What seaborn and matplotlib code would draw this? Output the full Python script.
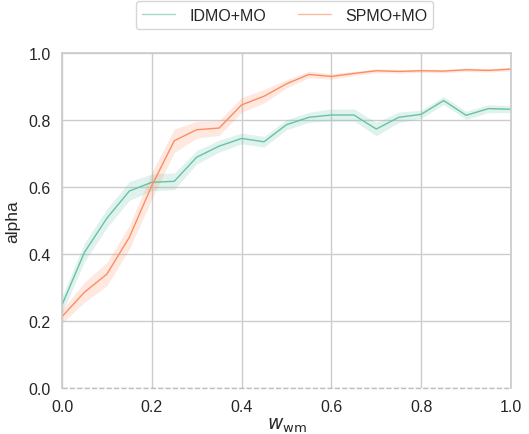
import numpy as np
import pandas as pd
import matplotlib
matplotlib.use("Agg")
import matplotlib.pyplot as plt
import seaborn as sns

w_wm = [0.0, 0.05, 0.10, 0.15, 0.20, 0.25, 0.30, 0.35, 0.40, 0.45, 0.50,
        0.55, 0.60, 0.65, 0.70, 0.75, 0.80, 0.85, 0.90, 0.95, 1.0]
idmo_mean = [0.248, 0.405, 0.507, 0.588, 0.614, 0.617, 0.689, 0.722, 0.745, 0.735, 0.786,
             0.808, 0.815, 0.815, 0.773, 0.808, 0.817, 0.858, 0.814, 0.834, 0.832]
idmo_err = [0.025, 0.028, 0.028, 0.028, 0.025, 0.025, 0.02, 0.018, 0.016, 0.016, 0.015,
            0.015, 0.018, 0.018, 0.02, 0.016, 0.012, 0.012, 0.012, 0.012, 0.01]
spmo_mean = [0.213, 0.286, 0.340, 0.450, 0.604, 0.738, 0.771, 0.776, 0.845, 0.871, 0.908,
             0.936, 0.930, 0.939, 0.947, 0.945, 0.947, 0.946, 0.950, 0.948, 0.952]
spmo_err = [0.02, 0.03, 0.035, 0.035, 0.04, 0.035, 0.025, 0.022, 0.022, 0.02, 0.012,
            0.01, 0.008, 0.006, 0.006, 0.005, 0.005, 0.005, 0.005, 0.005, 0.005]
labels = ["IDMO+MO", "SPMO+MO"]

sns.set_theme(style="whitegrid")
plt.rcParams['font.family'] = ['Liberation Sans', 'DejaVu Sans']

fig = plt.figure(figsize=(5.29, 4.35), dpi=100)
ax = fig.add_axes([62/529, 1-389/435, 449/529, 335/435])

pal = sns.color_palette("Set2", 2)
df = pd.concat([
    pd.DataFrame({"w": w_wm, "alpha": idmo_mean, "lo": np.array(idmo_mean)-np.array(idmo_err),
                  "hi": np.array(idmo_mean)+np.array(idmo_err), "method": labels[0]}),
    pd.DataFrame({"w": w_wm, "alpha": spmo_mean, "lo": np.array(spmo_mean)-np.array(spmo_err),
                  "hi": np.array(spmo_mean)+np.array(spmo_err), "method": labels[1]}),
])
sns.lineplot(data=df, x="w", y="alpha", hue="method", palette=pal, lw=1.0, ax=ax)
for i, m in enumerate(labels):
    d = df[df.method == m]
    ax.fill_between(d.w, d.lo, d.hi, color=pal[i], alpha=0.2, lw=0)

ax.spines["bottom"].set_visible(False)
ax.axhline(0, color="gray", ls="--", lw=1, alpha=0.5, zorder=5, clip_on=False)
ax.set_xlim(0, 1)
ax.set_ylim(0, 1)
ax.set_xticks([0, 0.2, 0.4, 0.6, 0.8, 1.0])
ax.set_yticks([0, 0.2, 0.4, 0.6, 0.8, 1.0])
ax.tick_params(labelsize=11.5, pad=2, labelcolor="#262626")
ax.set_xlabel(r"$w_{\mathrm{wm}}$", fontsize=13.5, labelpad=1)
ax.set_ylabel("alpha", fontsize=12.5, labelpad=6)
leg = ax.legend(loc="lower center", bbox_to_anchor=(0.4955, 1.048), ncol=2, fontsize=11.5,
                frameon=True, handlelength=2.1, columnspacing=2.0, handletextpad=0.85)
for h in leg.get_lines():
    h.set_alpha(0.6)

fig.savefig("out.png", dpi=100)
